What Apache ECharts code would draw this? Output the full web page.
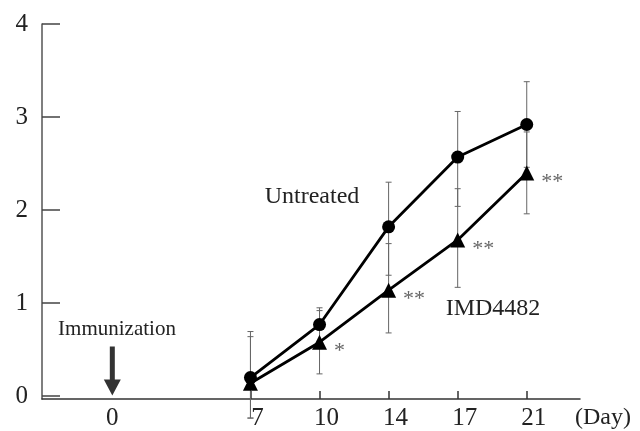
<!DOCTYPE html>
<html><head><meta charset="utf-8">
<script src="https://cdn.jsdelivr.net/npm/echarts@6/dist/echarts.min.js"></script>
<style>html,body{margin:0;padding:0;background:#fff}#c{width:640px;height:431px}</style>
</head><body><div id="c"></div>
<script>
// x axis categories (days); the empty slot is the gap between day 0 and day 7
const categories = ['0', '', '7', '10', '14', '17', '21'];
const dataIdx = [2, 3, 4, 5, 6];
const untreated = [0.20, 0.77, 1.82, 2.57, 2.92];
const untreatedLow = [-0.235, 0.59, 1.30, 2.04, 2.46];
const untreatedHigh = [0.695, 0.95, 2.30, 3.06, 3.38];
const imd = [0.14, 0.58, 1.14, 1.68, 2.40];
const imdLow = [-0.235, 0.24, 0.68, 1.17, 1.96];
const imdHigh = [0.64, 0.92, 1.64, 2.23, 2.84];
const imdSignif = ['', '*', '**', '**', '**'];
const yTicks = [0, 1, 2, 3, 4];
const xLabelIdx = [0, 2, 3, 4, 5, 6];
const xTickIdx = [2, 3, 4, 5, 6];
const arrowPoint = [0, 0.27];

const FONT = "'Liberation Serif', 'Times New Roman', serif";
const chart = echarts.init(document.getElementById('c'), null, {renderer: 'canvas'});

function errRender(params, api) {
  const x = api.value(0), lo = api.value(1), hi = api.value(2);
  const p1 = api.coord([x, lo]), p2 = api.coord([x, hi]);
  const st = {stroke: '#666', lineWidth: 1};
  const w = 3;
  return {type: 'group', children: [
    {type: 'line', shape: {x1: p1[0], y1: p1[1], x2: p2[0], y2: p2[1]}, style: st},
    {type: 'line', shape: {x1: p1[0] - w, y1: p1[1], x2: p1[0] + w, y2: p1[1]}, style: st},
    {type: 'line', shape: {x1: p2[0] - w, y1: p2[1], x2: p2[0] + w, y2: p2[1]}, style: st}
  ]};
}

const pts = (vals) => dataIdx.map((x, i) => [x, vals[i]]);
const errs = (lo, hi) => dataIdx.map((x, i) => [x, lo[i], hi[i]]);

chart.setOption({
  animation: false,
  backgroundColor: '#fff',
  grid: {left: 42, right: 60, top: 24, bottom: 31.5},
  xAxis: {
    type: 'value', min: -1.018, max: 6.771,
    axisLine: {onZero: false, lineStyle: {color: '#333', width: 1.5}},
    splitLine: {show: false},
    axisTick: {show: true, inside: true, length: 8, customValues: xTickIdx, lineStyle: {color: '#333', width: 1.5}},
    axisLabel: {
      customValues: xLabelIdx, margin: 7, color: '#222', fontFamily: FONT, fontSize: 25,
      formatter: (v) => v === 0 ? '{z|' + categories[v] + '}' : '{s|' + categories[Math.round(v)] + '}',
      rich: {z: {fontFamily: FONT, fontSize: 25, color: '#222'},
             s: {fontFamily: FONT, fontSize: 25, color: '#222', padding: [0, 0, 0, 14]}}
    }
  },
  yAxis: {
    type: 'value', min: -0.03, max: 4,
    axisLine: {show: true, onZero: false, lineStyle: {color: '#555', width: 1.5}},
    splitLine: {show: false},
    axisTick: {show: true, inside: true, length: 18, customValues: yTicks, lineStyle: {color: '#444', width: 1.5}},
    axisLabel: {customValues: yTicks, margin: 14, color: '#222', fontFamily: FONT, fontSize: 25}
  },
  graphic: [
    {type: 'text', x: 312, y: 197, style: {text: 'Untreated', font: '24px ' + FONT, fill: '#222', textAlign: 'center', textVerticalAlign: 'middle'}},
    {type: 'text', x: 493, y: 309, style: {text: 'IMD4482', font: '24px ' + FONT, fill: '#222', textAlign: 'center', textVerticalAlign: 'middle'}},
    {type: 'text', x: 117, y: 329, style: {text: 'Immunization', font: '21px ' + FONT, fill: '#222', textAlign: 'center', textVerticalAlign: 'middle'}},
    {type: 'text', x: 575, y: 418, style: {text: '(Day)', font: '24px ' + FONT, fill: '#222', textAlign: 'left', textVerticalAlign: 'middle'}}
  ],
  series: [
    {type: 'custom', name: 'errU', renderItem: errRender, data: errs(untreatedLow, untreatedHigh), encode: {x: 0, y: [1, 2]}, z: 1, clip: false},
    {type: 'custom', name: 'errI', renderItem: errRender, data: errs(imdLow, imdHigh), encode: {x: 0, y: [1, 2]}, z: 1, clip: false},
    {type: 'line', name: 'Untreated', data: pts(untreated), symbol: 'circle', symbolSize: 13,
     itemStyle: {color: '#000'}, lineStyle: {color: '#000', width: 2.8}, z: 3},
    {type: 'line', name: 'IMD4482', data: pts(imd), symbol: 'triangle', symbolSize: 15,
     itemStyle: {color: '#000'}, lineStyle: {color: '#000', width: 2.8}, z: 3,
     label: {show: true, position: 'right', distance: 7, offset: [0, 9], color: '#666', fontFamily: FONT, fontSize: 22,
             formatter: (p) => imdSignif[p.dataIndex]}},
    {type: 'scatter', name: 'arrow', data: [arrowPoint], symbol: 'path://M6,0 L11,0 L11,33 L17,33 L8.5,49 L0,33 L6,33 Z',
     symbolSize: [17, 49], itemStyle: {color: '#000'}, z: 3, silent: true}
  ]
});
</script></body></html>
